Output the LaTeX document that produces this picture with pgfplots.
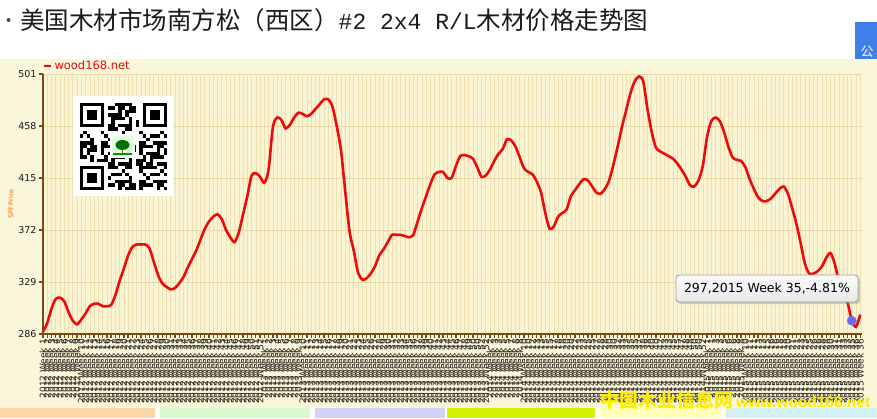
\documentclass[border=0pt]{standalone}
\usepackage{fontspec}
\setmainfont{DejaVu Sans}
\newfontfamily\cjk{Noto Sans CJK SC}
\newfontfamily\mono{Liberation Mono}
\newfontfamily\arialb{Liberation Sans}
\usepackage{pgfplots}
\usepackage{pgfplotstable}
\pgfplotsset{compat=1.18}
\usetikzlibrary{shadows}
\definecolor{cream}{HTML}{FAF6D9}
\definecolor{plotbg}{HTML}{FBF5D4}
\definecolor{vgrid}{HTML}{EEE0B4}
\definecolor{hgrid}{HTML}{E9D9A6}
\definecolor{axbrown}{HTML}{7B4A12}
\definecolor{linered}{HTML}{EE0A0A}
\definecolor{dotblue}{HTML}{6C6CEC}
\definecolor{peach}{HTML}{FFD6A8}
\definecolor{lgreen}{HTML}{D8F8D0}
\definecolor{lav}{HTML}{D2D0F6}
\definecolor{lime}{HTML}{D4F200}
\definecolor{lyel}{HTML}{FFFFB8}
\definecolor{lcyan}{HTML}{D2F2F8}
\definecolor{btnblue}{HTML}{3F7FE8}
\definecolor{ttext}{HTML}{1A1A1A}

\pgfplotstableread{
i v
0 288
1 295
2 307
3 315
4 316
5 313
6 304
7 297
8 294
9 298
10 303
11 309
12 311
13 311
14 309
15 309
16 310
17 318
18 330
19 340
20 351
21 358
22 360
23 360
24 360
25 357
26 346
27 335
28 328
29 325
30 323
31 324
32 328
33 333
34 341
35 348
36 355
37 364
38 373
39 379
40 383
41 385
42 381
43 372
44 366
45 362
46 370
47 385
48 400
49 417
50 419
51 416
52 411
53 422
54 457
55 465
56 463
57 456
58 459
59 465
60 469
61 468
62 466
63 468
64 472
65 476
66 480
67 480
68 474
69 458
70 438
71 404
72 371
73 355
74 337
75 331
76 332
77 336
78 342
79 351
80 356
81 362
82 368
83 368
84 368
85 367
86 366
87 368
88 379
89 390
90 400
91 410
92 418
93 420
94 420
95 415
96 415
97 425
98 433
99 434
100 433
101 431
102 424
103 416
104 417
105 422
106 429
107 435
108 439
109 447
110 446
111 441
112 432
113 423
114 420
115 418
116 412
117 403
118 386
119 373
120 375
121 383
122 386
123 389
124 400
125 405
126 410
127 414
128 413
129 408
130 403
131 402
132 406
133 413
134 426
135 441
136 457
137 471
138 485
139 495
140 499
141 495
142 472
143 453
144 440
145 437
146 435
147 433
148 431
149 427
150 422
151 416
152 409
153 408
154 413
155 425
156 449
157 462
158 465
159 462
160 453
161 441
162 432
163 430
164 429
165 424
166 414
167 406
168 399
169 396
170 396
171 398
172 402
173 406
174 408
175 402
176 390
177 377
178 361
179 344
180 336
181 336
182 338
183 342
184 349
185 353
186 344
187 329
188 318
189 312
190 297
191 292
192 302
}\pricedata

\begin{document}
\begin{tikzpicture}[x=1pt,y=1pt]
\useasboundingbox (0,0) rectangle (877,418);
\fill[white] (0,0) rectangle (877,418);
% cream panel
\fill[cream] (0,10) rectangle (877,359);
% bottom strips
\fill[peach] (0,0) rectangle (155,10);
\fill[lgreen] (160,0) rectangle (310,10);
\fill[lav] (315,0) rectangle (445,10);
\fill[lime] (447,0) rectangle (595,10);
\fill[lyel] (600,0) rectangle (722,10);
\fill[lcyan] (726,0) rectangle (877,10);
% top-right button
\fill[btnblue] (855,359) rectangle (877,396);
\node[text=white, inner sep=0pt, anchor=base] at (867,361) {\fontsize{13}{13}\selectfont\cjk 公};
% title
\fill[ttext!80] (8.5,398) circle (2);
\node[anchor=base west, inner sep=0pt, text=ttext] at (20,388)
  {\fontsize{24.5}{25}\selectfont\cjk 美国木材市场南方松（西区）{\mono\fontsize{23}{23}\selectfont\#2 2x4 R/L}木材价格走势图};

\begin{axis}[
  at={(43pt,84pt)}, anchor=south west,
  scale only axis, width=819pt, height=260pt,
  xmin=0, xmax=192.4, ymin=286, ymax=501,
  axis background/.style={fill=plotbg},
  axis x line*=bottom, axis y line*=left,
  axis line style={axbrown, line width=2.4pt},
  xtick={0,...,192},
  ytick={286,329,372,415,458,501},
  xmajorgrids, ymajorgrids,
  x grid style={vgrid, line width=0.6pt},
  y grid style={hgrid, line width=0.8pt},
  tick align=outside,
  major tick length=4pt,
  x tick style={axbrown, line width=1.3pt},
  y tick style={axbrown, line width=1.3pt},
  /pgf/number format/assume math mode=true,
  yticklabel style={font=\fontsize{9.5}{10}\selectfont, text=ttext, xshift=1pt},
  xticklabel={\pgfmathtruncatemacro\yr{2012+floor(\tick/52)}\pgfmathtruncatemacro\wk{mod(\tick,52)+1}\yr\ Week \wk},
  xticklabel style={rotate=90, anchor=east, font=\fontsize{9}{9}\selectfont, text=ttext!90!brown, inner sep=1pt},
  ylabel={SPF Price},
  ylabel style={font=\fontsize{6.5}{7}\selectfont, text=orange!80!red, yshift=-2pt},
  legend style={at={(0,1)}, anchor=south west, draw=none, fill=none,
    font=\fontsize{11.5}{12}\selectfont, text=linered, inner sep=0pt, outer sep=0pt,
    yshift=1pt, xshift=0pt},
  legend cell align=left,
  legend image code/.code={\draw[linered, line width=2.5pt] (0pt,0pt) -- (7pt,0pt);},
  clip=true,
]
\addplot[linered, line width=2.6pt, smooth, tension=0.45] table[x=i, y=v] {\pricedata};
\addlegendentry{wood168.net}
\addplot[only marks, mark=*, mark size=4.6pt, color=dotblue, forget plot] coordinates {(190,297)};
\end{axis}

% QR code (decorative)
\fill[white] (73,222) rectangle (173,322);
\begin{scope}[shift={(80,228)}]
  \def\m{3.48}
  \foreach \i in {0,...,24}{
    \foreach \j in {0,...,24}{
      \pgfmathtruncatemacro\b{(mod(\i*\i+3*\j*\j+5*\i+11*\j+2*\i*\j,11)<5)}
      \ifnum\b=1 \fill[black] (\i*\m,\j*\m) rectangle ++(\m,\m); \fi
    }
  }
  \foreach \ox/\oy in {0/0,0/18,18/18}{
    \fill[white] (\ox*\m-\m,\oy*\m-\m) rectangle ++(9*\m,9*\m);
    \fill[black] (\ox*\m,\oy*\m) rectangle ++(7*\m,7*\m);
    \fill[white] (\ox*\m+\m,\oy*\m+\m) rectangle ++(5*\m,5*\m);
    \fill[black] (\ox*\m+2*\m,\oy*\m+2*\m) rectangle ++(3*\m,3*\m);
  }
\end{scope}
\fill[white] (73,222) rectangle (173,227);
\fill[white] (73,318) rectangle (173,322);
\fill[white] (73,222) rectangle (79,322);
\fill[white] (168,222) rectangle (173,322);
\fill[white] (110,260) rectangle (135,284);
\fill[green!12!white] (112,262) rectangle (133,282);
\fill[green!45!black] (122.5,273) ellipse (7 and 5);
\fill[brown!70!black] (121.7,264) rectangle (123.3,269);
\fill[green!60!black] (113,263) rectangle (132,264.5);

% tooltip
\node[rounded corners=3pt, draw=gray!75, line width=0.9pt, top color=gray!4, bottom color=gray!18,
  minimum width=182pt, minimum height=27pt, inner sep=0pt,
  drop shadow={shadow xshift=2pt, shadow yshift=-2pt, opacity=0.35}]
  at (767,129.5) {\fontsize{12.5}{13}\selectfont 297,2015 Week 35,-4.81\%};

% bottom watermark
\node[anchor=base west, inner sep=0pt, text=yellow!95!orange] at (600,10.5)
  {{\fontsize{19}{19}\selectfont\cjk\bfseries 中国木业信息网} {\arialb\bfseries\fontsize{15.5}{16}\selectfont www.wood168.net}};
\end{tikzpicture}
\end{document}
